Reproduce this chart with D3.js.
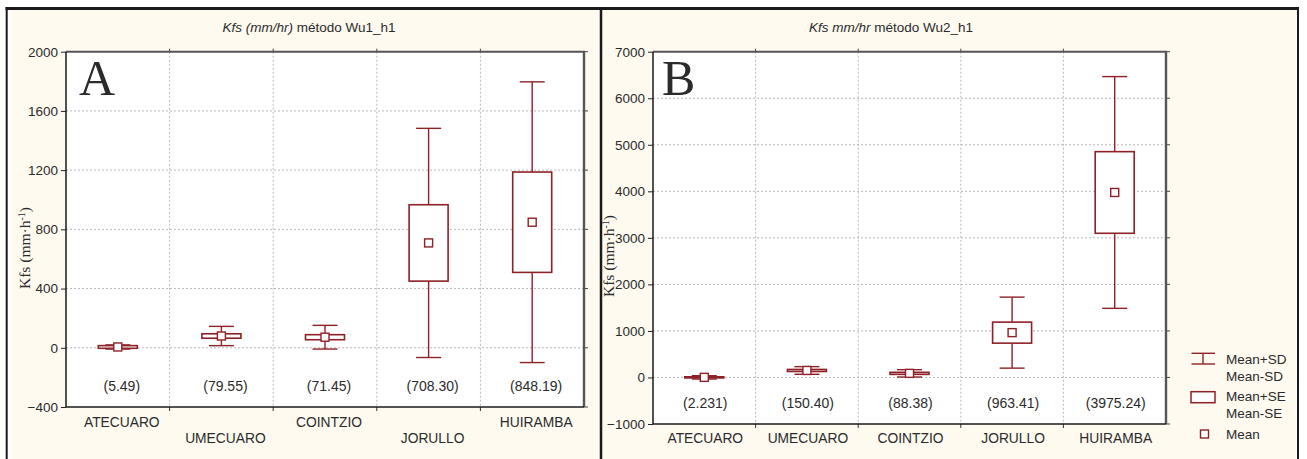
<!DOCTYPE html>
<html>
<head>
<meta charset="utf-8">
<script src="https://cdn.jsdelivr.net/npm/d3@7"></script>
<style>
  body { margin: 0; background: #fff; }
  svg text { font-family: "Liberation Sans", Arial, sans-serif; fill: #2b2b2b; }
</style>
</head>
<body>
<svg id="chart" width="1307" height="459"></svg>
<script>
// site names, same order in both panels
var sites = ["ATECUARO", "UMECUARO", "COINTZIO", "JORULLO", "HUIRAMBA"];

// panel A: Kfs Wu1_h1
var meanA = [5.49, 79.55, 71.45, 708.30, 848.19];
var sdA = [14, 65, 80, 774, 948];
var seA = [9, 15, 17, 258, 339];
var labelsA = ["(5.49)", "(79.55)", "(71.45)", "(708.30)", "(848.19)"];
var ticksA = [-400, 0, 400, 800, 1200, 1600, 2000];

// panel B: Kfs Wu2_h1
var meanB = [2.231, 150.40, 88.38, 963.41, 3975.24];
var sdB = [36, 82, 79, 763, 2490];
var seB = [12, 22, 22, 226, 877];
var labelsB = ["(2.231)", "(150.40)", "(88.38)", "(963.41)", "(3975.24)"];
var ticksB = [-1000, 0, 1000, 2000, 3000, 4000, 5000, 6000, 7000];

var RED = "#8e2127";
var svg = d3.select("#chart");

// frame + cream backgrounds
svg.append("rect").attr("x", 11).attr("y", 10).attr("width", 590).attr("height", 449).attr("fill", "#fefaef");
svg.append("rect").attr("x", 602).attr("y", 10).attr("width", 694).attr("height", 449).attr("fill", "#fefaef");
svg.append("line").attr("x1", 5.5).attr("x2", 1299).attr("y1", 8.5).attr("y2", 8.5).attr("stroke", "#1a1a1a").attr("stroke-width", 3);
svg.append("line").attr("x1", 6.7).attr("x2", 6.7).attr("y1", 7).attr("y2", 459).attr("stroke", "#1a1a1a").attr("stroke-width", 2);
svg.append("line").attr("x1", 601).attr("x2", 601).attr("y1", 7).attr("y2", 459).attr("stroke", "#1a1a1a").attr("stroke-width", 2.5);
svg.append("line").attr("x1", 1298).attr("x2", 1298).attr("y1", 7).attr("y2", 459).attr("stroke", "#1a1a1a").attr("stroke-width", 2);

function drawPanel(cfg) {
    var x = d3.scaleBand().domain(sites).range([cfg.x0, cfg.x1]);
    var y = d3.scaleLinear().domain(cfg.domain).range([cfg.y1, cfg.y0]);
    var g = svg.append("g");
    var bw = x.bandwidth();

    g.append("rect")
        .attr("x", cfg.x0).attr("y", cfg.y0)
        .attr("width", cfg.x1 - cfg.x0).attr("height", cfg.y1 - cfg.y0)
        .attr("fill", "#fff");

    // dotted grid
    g.selectAll(".hgrid")
        .data(cfg.ticks.filter(function(t) { return t !== cfg.domain[0] && t !== cfg.domain[1]; }))
        .enter().append("line")
        .attr("x1", cfg.x0).attr("x2", cfg.x1)
        .attr("y1", function(d) { return y(d); }).attr("y2", function(d) { return y(d); })
        .attr("stroke", "#b8b8b8").attr("stroke-dasharray", "2,2");
    g.selectAll(".vgrid")
        .data(sites.slice(1))
        .enter().append("line")
        .attr("x1", function(d) { return x(d); }).attr("x2", function(d) { return x(d); })
        .attr("y1", cfg.y0).attr("y2", cfg.y1)
        .attr("stroke", "#b8b8b8").attr("stroke-dasharray", "2,2");

    // left axis with ticks, labels
    var yAxis = d3.axisLeft(y).tickValues(cfg.ticks).tickSize(5).tickPadding(3).tickFormat(d3.format("d"));
    var ya = g.append("g").attr("transform", "translate(" + cfg.x0 + ",0)").call(yAxis);
    ya.select(".domain").remove();
    ya.selectAll("line").attr("stroke", "#222");
    ya.selectAll("text").style("font-size", "13.5px").attr("fill", "#2b2b2b");

    // right ticks
    g.selectAll(".rtick").data(cfg.ticks).enter().append("line")
        .attr("x1", cfg.x1).attr("x2", cfg.x1 + 4)
        .attr("y1", function(d) { return y(d); }).attr("y2", function(d) { return y(d); })
        .attr("stroke", "#444");
    // top / bottom ticks at category boundaries
    g.selectAll(".ttick").data(sites.slice(1)).enter().append("line")
        .attr("x1", function(d) { return x(d); }).attr("x2", function(d) { return x(d); })
        .attr("y1", cfg.y0 - 3).attr("y2", cfg.y0)
        .attr("stroke", "#444");
    g.selectAll(".btick").data(sites.slice(1)).enter().append("line")
        .attr("x1", function(d) { return x(d); }).attr("x2", function(d) { return x(d); })
        .attr("y1", cfg.y1).attr("y2", cfg.y1 + 4)
        .attr("stroke", "#333");

    // frame: dark left/bottom, grey shadowed top/right
    g.append("line").attr("x1", cfg.x0).attr("x2", cfg.x1 + 1).attr("y1", cfg.y0).attr("y2", cfg.y0)
        .attr("stroke", "#555").attr("stroke-width", 2);
    g.append("line").attr("x1", cfg.x1).attr("x2", cfg.x1).attr("y1", cfg.y0).attr("y2", cfg.y1)
        .attr("stroke", "#555").attr("stroke-width", 2.4);
    g.append("line").attr("x1", cfg.x0).attr("x2", cfg.x0).attr("y1", cfg.y0).attr("y2", cfg.y1)
        .attr("stroke", "#1a1a1a").attr("stroke-width", 1.5);
    g.append("line").attr("x1", cfg.x0).attr("x2", cfg.x1).attr("y1", cfg.y1).attr("y2", cfg.y1)
        .attr("stroke", "#1a1a1a").attr("stroke-width", 1.5);

    var rows = sites.map(function(s, i) {
        return { site: s, mean: cfg.mean[i], sd: cfg.sd[i], se: cfg.se[i], label: cfg.labels[i], i: i };
    });
    var cx = function(d) { return x(d.site) + bw / 2; };

    var marks = g.selectAll(".site").data(rows).enter().append("g");
    // whisker (mean +/- SD)
    marks.append("line")
        .attr("x1", cx).attr("x2", cx)
        .attr("y1", function(d) { return y(d.mean + d.sd); })
        .attr("y2", function(d) { return y(d.mean - d.sd); })
        .attr("stroke", RED).attr("stroke-width", 1.4);
    [1, -1].forEach(function(sign) {
        marks.append("line")
            .attr("x1", function(d) { return cx(d) - 12.5; })
            .attr("x2", function(d) { return cx(d) + 12.5; })
            .attr("y1", function(d) { return y(d.mean + sign * d.sd); })
            .attr("y2", function(d) { return y(d.mean + sign * d.sd); })
            .attr("stroke", RED).attr("stroke-width", 1.4);
    });
    // box (mean +/- SE)
    marks.append("rect")
        .attr("x", function(d) { return cx(d) - 19.5; })
        .attr("width", 39)
        .attr("y", function(d) { return y(d.mean + d.se); })
        .attr("height", function(d) { return y(d.mean - d.se) - y(d.mean + d.se); })
        .attr("fill", "#fff").attr("stroke", RED).attr("stroke-width", 1.6);
    // mean marker
    marks.append("rect")
        .attr("x", function(d) { return cx(d) - 4; })
        .attr("y", function(d) { return y(d.mean) - 4; })
        .attr("width", 8).attr("height", 8)
        .attr("fill", "#fff").attr("stroke", RED).attr("stroke-width", 1.4);
    // mean value labels
    marks.append("text")
        .attr("x", function(d) { return cx(d) + cfg.dx; })
        .attr("y", y(cfg.labelAt) + 5)
        .attr("text-anchor", "middle")
        .style("font-size", "14px")
        .text(function(d) { return d.label; });

    // category labels
    g.selectAll(".cat").data(rows).enter().append("text")
        .attr("x", function(d) { return cx(d) + cfg.dx; })
        .attr("y", function(d) { return (cfg.stagger && d.i % 2 === 1 ? 437.7 : cfg.catY) + 5; })
        .attr("text-anchor", "middle")
        .style("font-size", "13.8px")
        .text(function(d) { return d.site; });

    // title
    var t = svg.append("text").attr("x", cfg.titleX).attr("y", 31.5)
        .attr("text-anchor", "middle").style("font-size", "13.5px");
    t.append("tspan").style("font-style", "italic").text(cfg.titleItalic);
    t.append("tspan").text(" " + cfg.titleRest);

    // y axis title
    var yt = svg.append("text")
        .attr("transform", "translate(" + cfg.ylabX + "," + cfg.ylabY + ") rotate(-90)")
        .attr("text-anchor", "middle")
        .style("font-family", "'Liberation Serif', 'Times New Roman', serif")
        .style("font-size", "15.5px");
    yt.append("tspan").text("Kfs (mm\u00b7h");
    yt.append("tspan").attr("dy", -5).style("font-size", "10px").text("-1");
    yt.append("tspan").attr("dy", 5).text(")");

    // panel letter
    svg.append("text").attr("x", cfg.letterX).attr("y", 95)
        .style("font-family", "'Liberation Serif', 'Times New Roman', serif")
        .style("font-size", "50px").attr("fill", "#111")
        .text(cfg.letter);
}

drawPanel({
    x0: 66, x1: 584, y0: 51.7, y1: 407, domain: [-400, 2000], ticks: ticksA,
    mean: meanA, sd: sdA, se: seA, labels: labelsA, labelAt: -255,
    dx: 4, stagger: true, catY: 421.7,
    titleX: 309, titleItalic: "Kfs (mm/hr)", titleRest: "método Wu1_h1",
    ylabX: 30, ylabY: 248, letter: "A", letterX: 79
});

drawPanel({
    x0: 653, x1: 1166, y0: 51.7, y1: 424, domain: [-1000, 7000], ticks: ticksB,
    mean: meanB, sd: sdB, se: seB, labels: labelsB, labelAt: -550,
    dx: 1, stagger: false, catY: 437.7,
    titleX: 891, titleItalic: "Kfs mm/hr", titleRest: "método Wu2_h1",
    ylabX: 614, ylabY: 256, letter: "B", letterX: 662
});

// legend
var legend = svg.append("g");
legend.append("line").attr("x1", 1203).attr("x2", 1203).attr("y1", 353.3).attr("y2", 364)
    .attr("stroke", RED).attr("stroke-width", 1.4);
[353.3, 364].forEach(function(yy) {
    legend.append("line").attr("x1", 1191.5).attr("x2", 1215).attr("y1", yy).attr("y2", yy)
        .attr("stroke", RED).attr("stroke-width", 1.4);
});
legend.append("rect").attr("x", 1191).attr("y", 391.7).attr("width", 24).attr("height", 11)
    .attr("fill", "#fff").attr("stroke", RED).attr("stroke-width", 1.5);
legend.append("rect").attr("x", 1200.5).attr("y", 430).attr("width", 8).attr("height", 8)
    .attr("fill", "#fff").attr("stroke", RED).attr("stroke-width", 1.4);
var legendText = ["Mean+SD", "Mean-SD", "Mean+SE", "Mean-SE", "Mean"];
var legendY = [359.3, 376, 396, 413.3, 434];
legend.selectAll(".lt").data(legendText).enter().append("text")
    .attr("x", 1226).attr("y", function(d, i) { return legendY[i] + 5; })
    .style("font-size", "13.5px")
    .text(function(d) { return d; });
</script>
</body>
</html>
